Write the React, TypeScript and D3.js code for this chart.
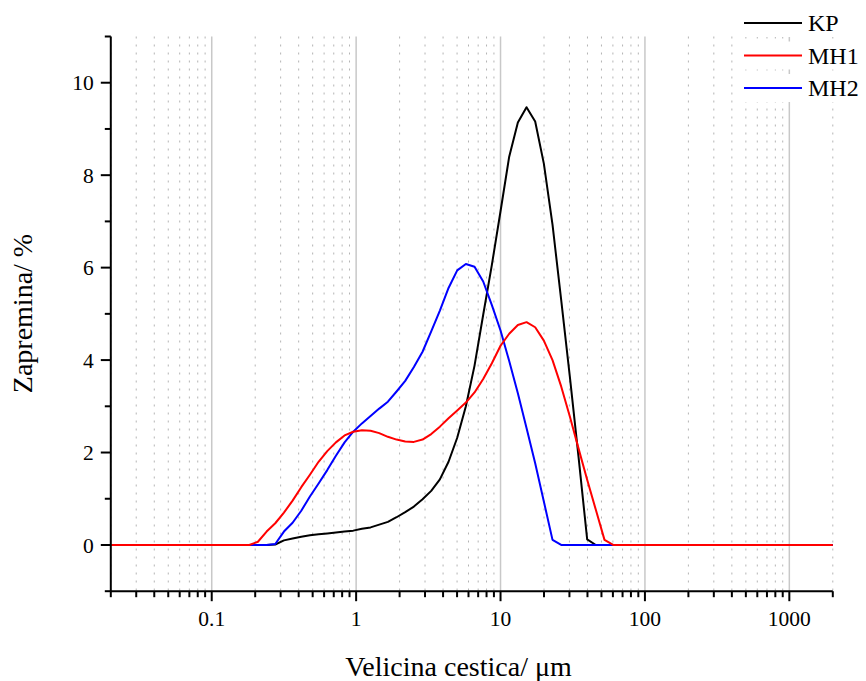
import React from "react";
import * as d3 from "d3";

const sizes = [0.02, 0.182, 0.2089, 0.2399, 0.2754, 0.3162, 0.3631, 0.4169, 0.4786, 0.5495, 0.631, 0.7244, 0.8318, 0.955, 1.0965, 1.2589, 1.4454, 1.6596, 1.9055, 2.1878, 2.5119, 2.884, 3.3113, 3.8019, 4.3652, 5.0119, 5.7544, 6.6069, 7.5858, 8.7096, 10, 11.482, 13.183, 15.136, 17.378, 19.953, 22.909, 26.303, 30.2, 34.674, 39.811, 45.709, 52.481, 60.256, 69.183, 2000];

const kp = [0, 0, 0, 0, 0.01, 0.1, 0.14, 0.18, 0.21, 0.23, 0.25, 0.27, 0.29, 0.31, 0.35, 0.38, 0.44, 0.5, 0.6, 0.71, 0.83, 0.99, 1.17, 1.42, 1.8, 2.32, 3.0, 3.88, 4.98, 6.06, 7.22, 8.4, 9.14, 9.47, 9.16, 8.25, 6.93, 5.3, 3.64, 1.91, 0.12, 0, 0, 0, 0, 0];

const mh1 = [0, 0, 0.07, 0.29, 0.47, 0.7, 0.96, 1.25, 1.52, 1.8, 2.03, 2.22, 2.37, 2.45, 2.48, 2.47, 2.42, 2.34, 2.28, 2.24, 2.23, 2.28, 2.4, 2.56, 2.74, 2.91, 3.08, 3.3, 3.59, 3.93, 4.31, 4.57, 4.76, 4.82, 4.71, 4.42, 4.0, 3.43, 2.78, 2.09, 1.41, 0.76, 0.11, 0, 0, 0];

const mh2 = [0, 0, 0, 0, 0.02, 0.29, 0.48, 0.74, 1.05, 1.33, 1.62, 1.93, 2.22, 2.45, 2.63, 2.79, 2.95, 3.1, 3.32, 3.55, 3.85, 4.18, 4.62, 5.07, 5.56, 5.94, 6.08, 6.02, 5.7, 5.19, 4.64, 3.98, 3.28, 2.53, 1.77, 0.94, 0.11, 0, 0, 0, 0, 0, 0, 0, 0, 0];

const seriesNames = ["KP", "MH1", "MH2"];
const seriesColors = ["#000000", "#ff0000", "#0000ff"];
const xTickLabels = ["0.1", "1", "10", "100", "1000"];
const yTickLabels = ["0", "2", "4", "6", "8", "10"];

const FONT = "'Liberation Serif', 'Times New Roman', serif";

export default function App() {
  const W = 866, H = 681;
  const x = d3.scaleLog().domain([0.02, 2000]).range([110.8, 832.8]);
  const y = d3.scaleLinear().domain([-1, 11]).range([591.2, 36.5]);

  const allX = x.ticks();
  const isMajor = (v: number) => Math.abs(Math.log10(v) - Math.round(Math.log10(v))) < 1e-9;
  const minorX = allX.filter((v) => !isMajor(v));
  const majorX = xTickLabels.map(Number);
  const yMajor = yTickLabels.map(Number);
  const yMinor = d3.range(-1, 12, 2);

  const data = [kp, mh1, mh2];
  const line = d3
    .line<number>()
    .x((_, i) => x(sizes[i]))
    .y((d) => y(d));

  const drawOrder = [0, 2, 1];
  const legendY = [23, 55.5, 88];
  const x0 = x.range()[0];
  const x1 = x.range()[1];
  const yb = y(-1);
  const yt = y(11);

  return (
    <div style={{ position: "absolute", left: 0, top: 0 }}>
      <svg width={W} height={H} style={{ display: "block", background: "#fff" }}>
        <rect x={0} y={0} width={W} height={H} fill="#fff" />
        {/* grid */}
        {minorX.map((v, i) => (
          <line key={"gm" + i} x1={x(v)} x2={x(v)} y1={yt} y2={yb} stroke="#b4b4b4" strokeWidth={1} strokeDasharray="2,6" />
        ))}
        {majorX.map((v, i) => (
          <line key={"gM" + i} x1={x(v)} x2={x(v)} y1={yt} y2={yb} stroke="#c8c8c8" strokeWidth={1.5} />
        ))}
        {/* series */}
        {drawOrder.map((si) => (
          <path key={"s" + si} d={line(data[si]) || ""} fill="none" stroke={seriesColors[si]} strokeWidth={2} strokeLinejoin="round" />
        ))}
        {/* axes */}
        <line x1={x0} x2={x0} y1={yt} y2={yb} stroke="#000" strokeWidth={2} />
        <line x1={x0} x2={x1} y1={yb} y2={yb} stroke="#000" strokeWidth={2} />
        {yMajor.map((v, i) => (
          <g key={"ym" + i}>
            <line x1={x0 - 10} x2={x0} y1={y(v)} y2={y(v)} stroke="#000" strokeWidth={2} />
            <text x={x0 - 17} y={y(v)} dy="0.35em" textAnchor="end" fontFamily={FONT} fontSize={21.5} fill="#000">
              {yTickLabels[i]}
            </text>
          </g>
        ))}
        {yMinor.map((v, i) => (
          <line key={"yn" + i} x1={x0 - 6} x2={x0} y1={y(v)} y2={y(v)} stroke="#000" strokeWidth={2} />
        ))}
        {majorX.map((v, i) => (
          <g key={"xm" + i}>
            <line x1={x(v)} x2={x(v)} y1={yb} y2={yb + 10} stroke="#000" strokeWidth={2} />
            <text x={x(v)} y={626} textAnchor="middle" fontFamily={FONT} fontSize={21.5} fill="#000">
              {xTickLabels[i]}
            </text>
          </g>
        ))}
        {minorX.map((v, i) => (
          <line key={"xn" + i} x1={x(v)} x2={x(v)} y1={yb} y2={yb + 6} stroke="#000" strokeWidth={2} />
        ))}
        {/* axis titles */}
        <text x={458.5} y={676} textAnchor="middle" fontFamily={FONT} fontSize={28} fill="#000">
          Velicina cestica/ μm
        </text>
        <text transform="translate(32,313.5) rotate(-90)" textAnchor="middle" fontFamily={FONT} fontSize={28} fill="#000">
          Zapremina/ %
        </text>
        {/* legend */}
        {seriesNames.map((n, i) => (
          <g key={"lg" + i}>
            <rect x={740} y={legendY[i] - 14} width={126} height={28} fill="#fff" />
            <line x1={744} x2={802} y1={legendY[i]} y2={legendY[i]} stroke={seriesColors[i]} strokeWidth={2} />
            <text x={808} y={legendY[i]} dy="0.35em" fontFamily={FONT} fontSize={24} fill="#000">
              {n}
            </text>
          </g>
        ))}
      </svg>
    </div>
  );
}
